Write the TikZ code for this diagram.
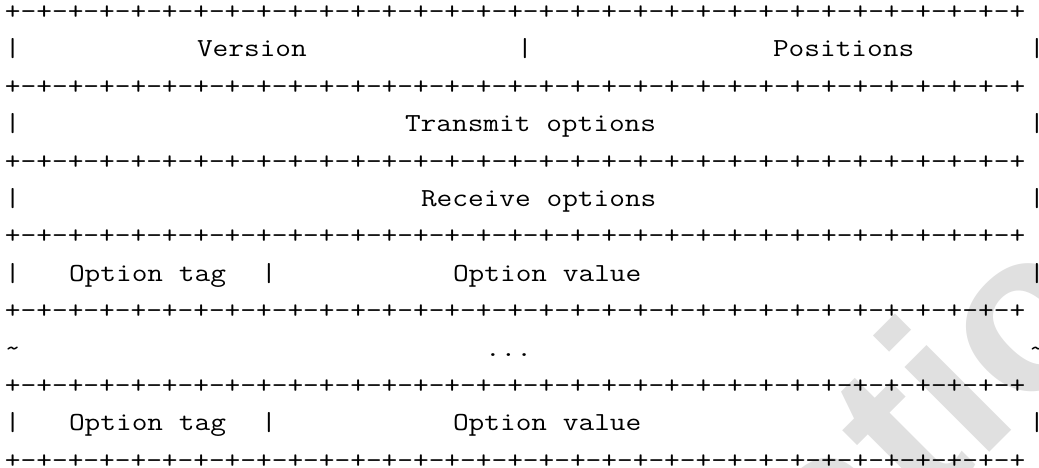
\documentclass[tikz,border=0pt]{standalone}
\usepackage{fontspec}
\usepackage{graphicx}
\newfontfamily\wmfont{Liberation Sans}
\newcommand\asciifont{\fontsize{26}{26}\selectfont\ttfamily}
\newcommand\A[1]{\scalebox{1.1722}[1]{\asciifont #1}}
\newcommand\borderstr{+-+-+-+-+-+-+-+-+-+-+-+-+-+-+-+-+-+-+-+-+-+-+-+-+-+-+-+-+-+-+-+-+}
\begin{document}
\begin{tikzpicture}[x=1pt,y=-1pt,
  ch/.style={inner sep=0pt, outer sep=0pt, anchor=base west},
  wm/.style={inner sep=0pt, outer sep=0pt, anchor=base west, rotate=45,
    text=black!12, font=\wmfont\bfseries\fontsize{227}{227}\selectfont}]
\useasboundingbox (0,0) rectangle (1039,467);
\newcommand\cell[4]{\node[ch] (#1) at ({5+16*#2},{19.5+37.4*#3}) {\A{#4}};}
% watermark
\begin{scope}
\clip (0,0) rectangle (1039,467);
\node[wm] (wmark) at (835.8,606.6) {ation};
\end{scope}
% border rows
\foreach \r in {0,2,...,12}{
  \node[ch] (b\r) at (5,{19.5+37.4*\r}) {\A{\borderstr}};
}
% row 1
\cell{r1a}{0}{1}{|}
\cell{version}{12}{1}{Version}
\cell{r1b}{32}{1}{|}
\cell{positions}{48}{1}{Positions}
\cell{r1c}{64}{1}{|}
% row 3
\cell{r3a}{0}{3}{|}
\cell{transmit}{25}{3}{Transmit options}
\cell{r3c}{64}{3}{|}
% row 5
\cell{r5a}{0}{5}{|}
\cell{receive}{26}{5}{Receive options}
\cell{r5c}{64}{5}{|}
% row 7
\cell{r7a}{0}{7}{|}
\cell{tag1}{4}{7}{Option tag}
\cell{r7b}{16}{7}{|}
\cell{val1}{28}{7}{Option value}
\cell{r7c}{64}{7}{|}
% row 9
\cell{r9a}{0}{9}{\textasciitilde}
\cell{dots}{30}{9}{...}
\cell{r9c}{64}{9}{\textasciitilde}
% row 11
\cell{r11a}{0}{11}{|}
\cell{tag2}{4}{11}{Option tag}
\cell{r11b}{16}{11}{|}
\cell{val2}{28}{11}{Option value}
\cell{r11c}{64}{11}{|}
\end{tikzpicture}
\end{document}
